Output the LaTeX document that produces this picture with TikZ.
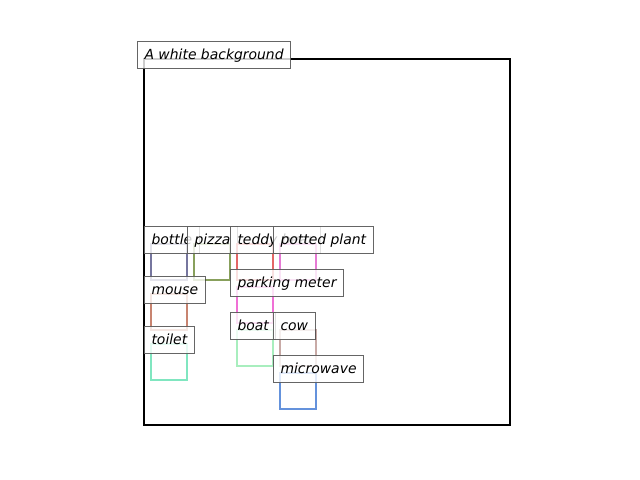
\documentclass[tikz,border=0pt]{standalone}
\usepackage{fontspec}
\setmainfont{DejaVu Sans}
\definecolor{cbottle}{RGB}{118,118,158}
\definecolor{cpizza}{RGB}{136,160,92}
\definecolor{cteddy}{RGB}{228,102,102}
\definecolor{cplant}{RGB}{230,122,212}
\definecolor{cmouse}{RGB}{200,132,112}
\definecolor{cmeter}{RGB}{240,112,214}
\definecolor{ctoilet}{RGB}{128,230,192}
\definecolor{cboat}{RGB}{168,238,190}
\definecolor{ccow}{RGB}{200,170,166}
\definecolor{coven}{RGB}{100,146,220}

\begin{document}
\begin{tikzpicture}[x=.025cm,y=-.025cm,
	lbl/.style={anchor=base west,draw=black!75,fill=white,fill opacity=.8,draw opacity=.8,text opacity=1,line width=.7pt,inner xsep=5pt,inner ysep=5pt,text height=7.8pt,text depth=2.1pt,font=\fontsize{9.9}{12}\selectfont\itshape},
	box/.style={line width=1.4pt}]
			\useasboundingbox (0,0) rectangle (640,480);
			\path
			(144,59) coordinate (TL)
			(510,425) coordinate (BR)
			;
			\draw[line width=1.4pt] (TL) rectangle (BR);
			\foreach \n/\t/\x/\y in {bottle/bottle/151/244,pizza/pizza/194/244,teddy/teddy bear/237/244,plant/potted plant/280/244,mouse/mouse/151/294,meter/parking meter/237/287,toilet/toilet/151/344,boat/boat/237/330,cow/cow/280/330,oven/microwave/280/373} {
				\draw[box,c\n] (\x,\y) rectangle ++(36,36);
				\node[lbl] (\n) at (\x-7,\y) {\t};
			}
			\node[lbl] (bg) at (137,59) {A white background};
		\end{tikzpicture}
\end{document}
